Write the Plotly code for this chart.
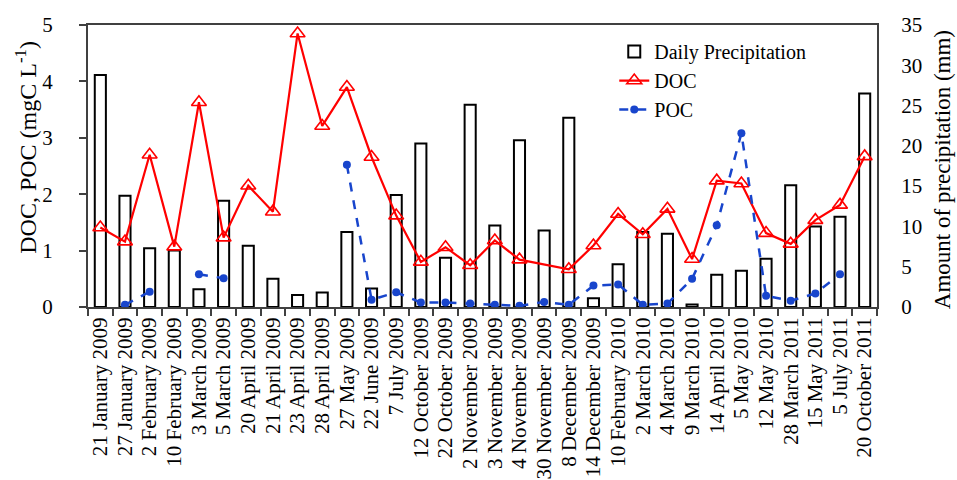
import plotly.graph_objects as go

# Sampling dates (categorical axis)
dates = [
    "21 January 2009", "27 January 2009", "2 February 2009", "10 February 2009",
    "3 March 2009", "5 March 2009", "20 April 2009", "21 April 2009",
    "23 April 2009", "28 April 2009", "27 May 2009", "22 June 2009",
    "7 July 2009", "12 October 2009", "22 October 2009", "2 November 2009",
    "3 November 2009", "4 November 2009", "30 November 2009", "8 December 2009",
    "14 December 2009", "10 February 2010", "2 March 2010", "4 March 2010",
    "9 March 2010", "14 April 2010", "5 May 2010", "12 May 2010",
    "28 March 2011", "15 May 2011", "5 July 2011", "20 October 2011",
]

# Daily precipitation (mm)
precip = [
    28.8, 13.8, 7.3, 7.0, 2.2, 13.2, 7.6, 3.5,
    1.5, 1.8, 9.3, 2.3, 13.9, 20.3, 6.1, 25.1,
    10.1, 20.7, 9.5, 23.5, 1.1, 5.3, 9.3, 9.1,
    0.3, 4.0, 4.5, 6.0, 15.1, 10.0, 11.2, 26.5,
]

# Dissolved organic carbon (mgC/L); None = not measured
doc = [
    1.41, 1.16, 2.70, 1.07, 3.63, 1.23, 2.15, 1.69,
    4.85, 3.21, 3.90, 2.66, 1.62, 0.80, 1.06, 0.74,
    1.18, 0.84, None, 0.67, 1.09, 1.65, 1.29, 1.74,
    0.85, 2.24, 2.19, 1.31, 1.12, 1.54, 1.81, 2.67,
]

# Particulate organic carbon (mgC/L); None = not measured
poc = [
    None, 0.04, 0.27, None, 0.58, 0.51, None, None,
    None, None, 2.52, 0.13, 0.26, 0.08, 0.08, 0.06,
    0.04, 0.02, 0.09, 0.04, 0.38, 0.40, 0.04, 0.06,
    0.50, 1.45, 3.08, 0.20, 0.11, 0.24, 0.58, None,
]

FONT = "Liberation Serif"
AXIS_COLOR = "#404040"

fig = go.Figure()

fig.add_trace(go.Bar(
    x=dates, y=precip, name="Daily Precipitation",
    width=0.45,
    marker=dict(color="white", line=dict(color="black", width=2)),
    yaxis="y",
))

fig.add_trace(go.Scatter(
    x=dates, y=doc, name="DOC", mode="lines+markers",
    connectgaps=True,
    line=dict(color="#FF0000", width=2.2),
    marker=dict(symbol="triangle-up-open", size=13, color="#FF0000",
                line=dict(color="#FF0000", width=1.6)),
    yaxis="y2",
))

fig.add_trace(go.Scatter(
    x=dates, y=poc, name="POC", mode="lines+markers",
    connectgaps=False,
    line=dict(color="#1845CC", width=2.5, dash="dash"),
    marker=dict(symbol="circle", size=8, color="#1845CC"),
    yaxis="y2",
))

fig.update_layout(
    width=957, height=480,
    margin=dict(l=88, r=80, t=25, b=173, autoexpand=False),
    paper_bgcolor="white", plot_bgcolor="white",
    font=dict(family=FONT, size=20, color="black"),
    showlegend=True,
    legend=dict(
        x=0.667, y=0.975, xanchor="left", yanchor="top",
        bgcolor="rgba(0,0,0,0)", font=dict(family=FONT, size=20),
        traceorder="normal", itemwidth=30, tracegroupgap=0,
    ),
    xaxis=dict(
        type="category",
        range=[-0.5, len(dates) - 0.5],
        tickmode="linear", tick0=0, dtick=1,
        tickangle=-90,
        tickfont=dict(family=FONT, size=21),
        showline=True, linecolor=AXIS_COLOR, linewidth=2, mirror=True,
        ticks="outside", tickson="boundaries", ticklen=7,
        tickcolor=AXIS_COLOR, tickwidth=1.5,
        showgrid=False, automargin=False,
    ),
    yaxis=dict(
        side="right",
        range=[0, 35], dtick=5,
        showline=True, linecolor=AXIS_COLOR, linewidth=2,
        ticks="", ticklabelstandoff=18,
        tickfont=dict(family=FONT, size=21),
        showgrid=False, zeroline=False, automargin=False,
    ),
    yaxis2=dict(
        side="left", overlaying="y", anchor="x",
        range=[0, 5], dtick=1,
        showline=True, linecolor=AXIS_COLOR, linewidth=2,
        ticks="outside", ticklen=7, tickcolor=AXIS_COLOR, tickwidth=1.5,
        ticklabelstandoff=22,
        tickfont=dict(family=FONT, size=21),
        showgrid=False, zeroline=False, automargin=False,
    ),
)

# Axis titles placed as rotated annotations
fig.add_annotation(
    text="DOC, POC (mgC L<sup>-1</sup>)", textangle=-90,
    xref="paper", yref="paper", x=-0.079, y=0.567,
    xanchor="center", yanchor="middle", showarrow=False,
    font=dict(family=FONT, size=24, color="black"),
)
fig.add_annotation(
    text="Amount of precipitation (mm)", textangle=-90,
    xref="paper", yref="paper", x=1.083, y=0.487,
    xanchor="center", yanchor="middle", showarrow=False,
    font=dict(family=FONT, size=23, color="black"),
)

fig.write_html("out.html")
